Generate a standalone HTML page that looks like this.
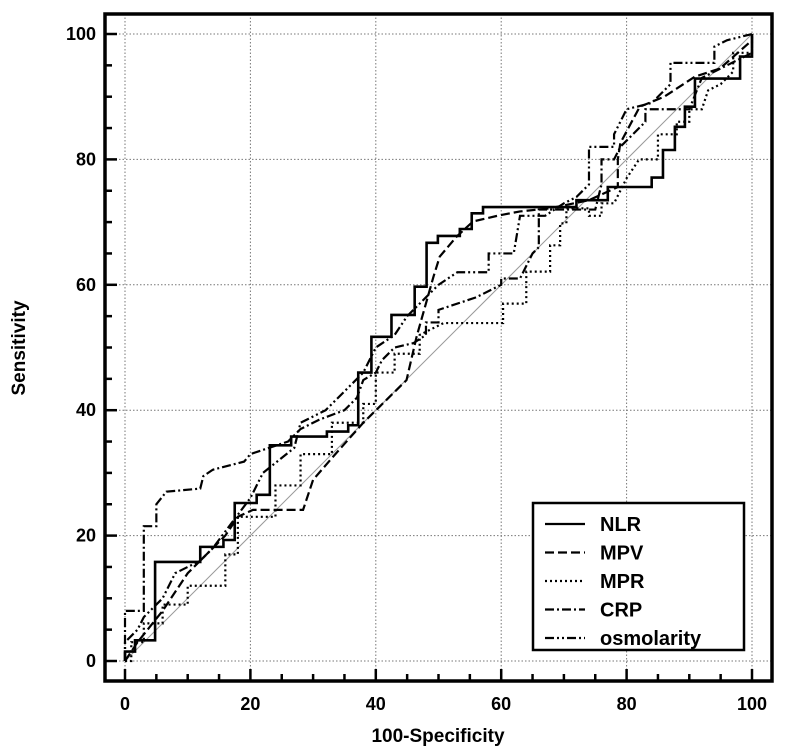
<!DOCTYPE html>
<html><head><meta charset="utf-8"><style>
html,body{margin:0;padding:0;background:#fff;}
svg{display:block;font-family:"Liberation Sans",Arial,sans-serif;font-weight:bold;}
</style></head><body>
<svg id="chart" width="786" height="753" viewBox="0 0 786 753">
<g id="grid"></g>
<line x1="125" y1="661" x2="752" y2="34" stroke="#999" stroke-width="1"/>
<g id="series"></g>
<rect x="105" y="14" width="667" height="667" fill="none" stroke="#000" stroke-width="3.5"/>
<g id="ticks"></g>
<text x="438" y="742" text-anchor="middle" font-size="19">100-Specificity</text>
<text transform="translate(25,348) rotate(-90)" text-anchor="middle" font-size="19">Sensitivity</text>
<g>
<rect x="533" y="503" width="211" height="147" fill="#fff" stroke="#000" stroke-width="2.5"/>
<g id="legend-items"></g>
</g>
</svg>
<script>
const xTicks=[0,20,40,60,80,100];
const yTicks=[0,20,40,60,80,100];
const seriesNames=["NLR","MPV","MPR","CRP","osmolarity"];
const nlrX=[0,0,1.6,1.6,4.8,4.8,12,12,15.7,15.7,17.5,17.5,21,21,23.1,23.1,26.5,26.5,32.2,32.2,35.6,35.6,37.2,37.2,39.3,39.3,42.5,42.5,46.2,46.2,48.1,48.1,49.9,49.9,53.4,53.4,55.3,55.3,57.1,57.1,72,72,77,77,84,84,85.8,85.8,87.7,87.7,89.3,89.3,90.9,90.9,98.1,98.1,100,100];
const nlrY=[0,1.5,1.5,3.3,3.3,15.8,15.8,18.2,18.2,19.3,19.3,25.2,25.2,26.5,26.5,34.4,34.4,35.8,35.8,36.6,36.6,37.6,37.6,46,46,51.7,51.7,55.2,55.2,59.7,59.7,66.7,66.7,67.8,67.8,68.9,68.9,71.4,71.4,72.4,72.4,73.5,73.5,75.6,75.6,77.1,77.1,81.5,81.5,85.2,85.2,88.4,88.4,92.9,92.9,96.4,96.4,100];
const mpvX=[0,2,6,10,16,18,20.4,28.4,30,33.2,38,44.9,46.5,49.2,50.2,52.9,55.5,59.8,63,67.8,74,78.6,78.6,79,82.1,86,90.9,94.9,100,100];
const mpvY=[0,3,8,14,20,23,24.1,24.1,28.9,32.6,38,44.8,51.7,61.3,64.5,67.7,70.1,71.1,71.7,72.2,73.5,75.6,80,82.6,88.4,90,93.2,94.5,99,100];
const mprX=[0,1,1,3,3,6,6,10,10,16,16,18,18,24,24,28,28,33,33,38,38,40,40,43,43,47,47,50.8,60.3,60.3,64,64,67.8,67.8,69.4,69.4,70.4,70.4,74,74,76,76,78,80,82,85,85,88,88,90,90,92,93,95,97,97,100,100];
const mprY=[0,0,3,3,6,6,9,9,12,12,17,17,23,23,28,28,33,33,38,38,41,41,46,46,49,49,52,53.9,53.9,57,57,62.1,62.1,66.3,66.3,69.8,69.8,72.2,72.2,71,71,73,73,77,80,80,84,84,86,86,88,88,91,92,94,97,97,100];
const crpX=[0,0,3,3,5,5,6.6,12,12.5,14,19,20,26,28,31,35,37,38,40,41,43,46,48,48,50,50,56,60,60,63,65,66,66,75,76,76,78,79,83,83,90,92,96,100,100];
const crpY=[0,8,8,21.5,21.5,25,27,27.5,29.5,30.5,31.8,33,35,37,38.5,40,42,44.8,46,48,50,50.7,52,54,54,56,58,60,61,61,65,66,72,72,76,80,80,82,86,88,88,93,95,97,100];
const osmX=[0,0,2,3,6,8,12,14,17,20,22,27,28,32,35,38,40,43,45,48,50,53,58,58,62,63,67,70,72,74,74,78,78,80,84,87,87,94,94,96,100];
const osmY=[0,3,5,7,10,14,16,18,22,26,30,34,38,40,43,46,50,52,55,58,60,62,62,65,65,71,71,73,74,76,82,82,84,88,89,92,95.4,95.4,98,99,100];
const seriesX=[nlrX,mpvX,mprX,crpX,osmX];
const seriesY=[nlrY,mpvY,mprY,crpY,osmY];
const dashes=["","9,4","2,3","9,3,2,3","9,3,2,3,2,3"];
const widths=[2.6,2.2,2.2,2.2,2.2];
const NS="http://www.w3.org/2000/svg";
function sx(v){return 125+v*6.27;}
function sy(v){return 661-v*6.27;}
function mk(tag,attrs,parent){const e=document.createElementNS(NS,tag);for(const k in attrs)e.setAttribute(k,attrs[k]);parent.appendChild(e);return e;}
const grid=document.getElementById('grid');
xTicks.forEach(t=>{
  const l=mk('line',{x1:sx(t),x2:sx(t),y1:14,y2:681,stroke:'#777','stroke-width':1,'stroke-dasharray':'1.5,2'},grid);
  
  
});
yTicks.forEach(t=>{
  const l=mk('line',{x1:105,x2:772,y1:sy(t),y2:sy(t),stroke:'#777','stroke-width':1,'stroke-dasharray':'1.5,2'},grid);
  
  
});
const ticks=document.getElementById('ticks');
for(let v=0;v<=100;v+=5){
  const major=v%20===0;
  const len=major?12:7;
  const a=mk('line',{x1:sx(v),x2:sx(v),y1:681,y2:681-len,stroke:'#000','stroke-width':2.5},ticks);
  
  
  const b=mk('line',{x1:105,x2:105+len,y1:sy(v),y2:sy(v),stroke:'#000','stroke-width':2.5},ticks);
  
  
}
xTicks.forEach(t=>{
  const tx=mk('text',{x:sx(t),y:710,'text-anchor':'middle','font-size':18},ticks);
  tx.textContent=t;
  
  
});
yTicks.forEach(t=>{
  const tx=mk('text',{x:96,y:sy(t)+6,'text-anchor':'end','font-size':18},ticks);
  tx.textContent=t;
  
  
});
const sg=document.getElementById('series');
seriesNames.forEach((n,i)=>{
  const pts=seriesX[i].map((x,j)=>sx(x)+','+sy(seriesY[i][j])).join(' ');
  const p=mk('polyline',{points:pts,fill:'none',stroke:'#000','stroke-width':widths[i],'stroke-dasharray':dashes[i]},sg);
  
  
});
const lg=document.getElementById('legend-items');
seriesNames.forEach((n,i)=>{
  const y=524+i*28.5;
  const l=mk('line',{x1:545,x2:585,y1:y,y2:y,stroke:'#000','stroke-width':2.2,'stroke-dasharray':dashes[i]},lg);
  
  
  const t=mk('text',{x:600,y:y+7,'font-size':20},lg);
  t.textContent=n;
  
  
});
</script>
</body></html>
